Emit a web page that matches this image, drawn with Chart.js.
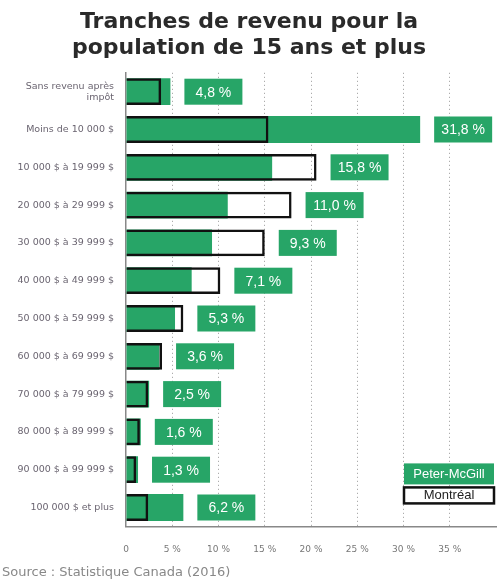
<!DOCTYPE html>
<html>
<head>
<meta charset="utf-8">
<script src="https://cdn.jsdelivr.net/npm/chart.js@4"></script>
<style>
  html, body { margin: 0; padding: 0; background: #fff; }
  #wrap { width: 501px; height: 582px; }
</style>
</head>
<body>
<div id="wrap"><canvas id="revenuChart" width="501" height="582"></canvas></div>
<script>
// Tranches de revenu (catégories)
var categories = [
    ['Sans revenu après', 'impôt'],
    'Moins de 10 000 $',
    '10 000 $ à 19 999 $',
    '20 000 $ à 29 999 $',
    '30 000 $ à 39 999 $',
    '40 000 $ à 49 999 $',
    '50 000 $ à 59 999 $',
    '60 000 $ à 69 999 $',
    '70 000 $ à 79 999 $',
    '80 000 $ à 89 999 $',
    '90 000 $ à 99 999 $',
    '100 000 $ et plus'
];
// Pourcentages
var peterMcGill = [4.8, 31.8, 15.8, 11.0, 9.3, 7.1, 5.3, 3.6, 2.5, 1.6, 1.3, 6.2];
var montreal = [3.8, 15.4, 20.6, 17.9, 15.0, 10.2, 6.2, 3.9, 2.4, 1.5, 1.1, 2.4];
var xTicks = [0, 5, 10, 15, 20, 25, 30, 35];

var green = '#27a567';
var sans = '"Liberation Sans", Arial, sans-serif';
var wide = '"DejaVu Sans", sans-serif';

// Boîtes vertes avec la valeur à droite des barres
var valueBoxes = {
    id: 'valueBoxes',
    afterDatasetsDraw: function (chart) {
        var ctx = chart.ctx;
        var xs = chart.scales.x;
        var meta = chart.getDatasetMeta(0);
        ctx.save();
        ctx.font = '14px ' + sans;
        ctx.textAlign = 'center';
        ctx.textBaseline = 'middle';
        peterMcGill.forEach(function (v, i) {
            var end = xs.getPixelForValue(Math.max(v, montreal[i]));
            var y = meta.data[i].y;
            var x = end + 14;
            ctx.fillStyle = green;
            ctx.fillRect(x, y - 13, 58, 26);
            ctx.fillStyle = '#fff';
            ctx.fillText(v.toFixed(1).replace('.', ',') + ' %', x + 29, y + 1);
        });
        ctx.restore();
    }
};

// Légende en bas à droite
var boxLegend = {
    id: 'boxLegend',
    afterDraw: function (chart) {
        var ctx = chart.ctx;
        var a = chart.chartArea;
        var x = a.right - 92;
        ctx.save();
        ctx.font = '13px ' + sans;
        ctx.textAlign = 'center';
        ctx.textBaseline = 'middle';
        ctx.fillStyle = green;
        ctx.fillRect(x, a.bottom - 63, 90, 21);
        ctx.fillStyle = '#fff';
        ctx.fillText('Peter-McGill', x + 45, a.bottom - 52);
        ctx.fillStyle = '#fff';
        ctx.fillRect(x, a.bottom - 39, 90, 16);
        ctx.lineWidth = 2.5;
        ctx.strokeStyle = '#111';
        ctx.strokeRect(x, a.bottom - 39, 90, 16);
        ctx.fillStyle = '#222';
        ctx.fillText('Montréal', x + 45, a.bottom - 31);
        ctx.restore();
    }
};

var ctx = document.getElementById('revenuChart').getContext('2d');
var revenuChart = new Chart(ctx, {
    type: 'bar',
    data: {
        labels: categories,
        datasets: [{
            label: 'Montréal',
            data: montreal,
            backgroundColor: 'rgba(0,0,0,0)',
            borderColor: '#111',
            borderWidth: 2.5,
            order: 0
        }, {
            label: 'Peter-McGill',
            data: peterMcGill,
            backgroundColor: green,
            borderWidth: 0,
            order: 1
        }]
    },
    options: {
        indexAxis: 'y',
        responsive: false,
        animation: false,
        devicePixelRatio: 1,
        layout: { padding: { left: 2, right: 5, top: 0, bottom: 2 } },
        datasets: {
            bar: { grouped: false, barPercentage: 0.71, categoryPercentage: 1 }
        },
        scales: {
            x: {
                min: 0,
                max: 40,
                afterBuildTicks: function (axis) {
                    axis.ticks = xTicks.concat([40]).map(function (v) { return { value: v }; });
                },
                afterFit: function (s) {
                    s.paddingRight = 0;
                    s.paddingLeft = 0;
                    s.height = 36;
                },
                border: { display: true, color: '#888', width: 1.5, dash: [1, 3] },
                grid: {
                    color: function (c) {
                        return (c.tick && c.tick.value > 0 && c.tick.value < 40) ? '#999' : 'rgba(0,0,0,0)';
                    },
                    drawTicks: false
                },
                ticks: {
                    padding: 18,
                    color: '#777',
                    font: { family: wide, size: 9 },
                    callback: function (v) {
                        if (v === 40) return '';
                        return v === 0 ? '0' : v + ' %';
                    }
                }
            },
            y: {
                afterFit: function (s) { s.width = 124; },
                border: { display: true, color: '#888', width: 1.5 },
                grid: { display: false, drawTicks: false },
                ticks: {
                    padding: 12,
                    color: '#6a6470',
                    font: { family: wide, size: 9.5, lineHeight: 1.15 }
                }
            }
        },
        plugins: {
            legend: { display: false },
            tooltip: { enabled: false },
            title: {
                display: true,
                text: ['Tranches de revenu pour la', 'population de 15 ans et plus'],
                color: '#2a2a2a',
                font: { family: wide, size: 22, weight: 'bold', lineHeight: 1.2 },
                padding: { top: 9, bottom: 11 }
            },
            subtitle: {
                display: true,
                position: 'bottom',
                align: 'start',
                text: 'Source : Statistique Canada (2016)',
                color: '#888',
                font: { family: wide, size: 13 },
                padding: { top: 2, bottom: 0 }
            }
        }
    },
    plugins: [valueBoxes, boxLegend]
});
</script>
</body>
</html>
